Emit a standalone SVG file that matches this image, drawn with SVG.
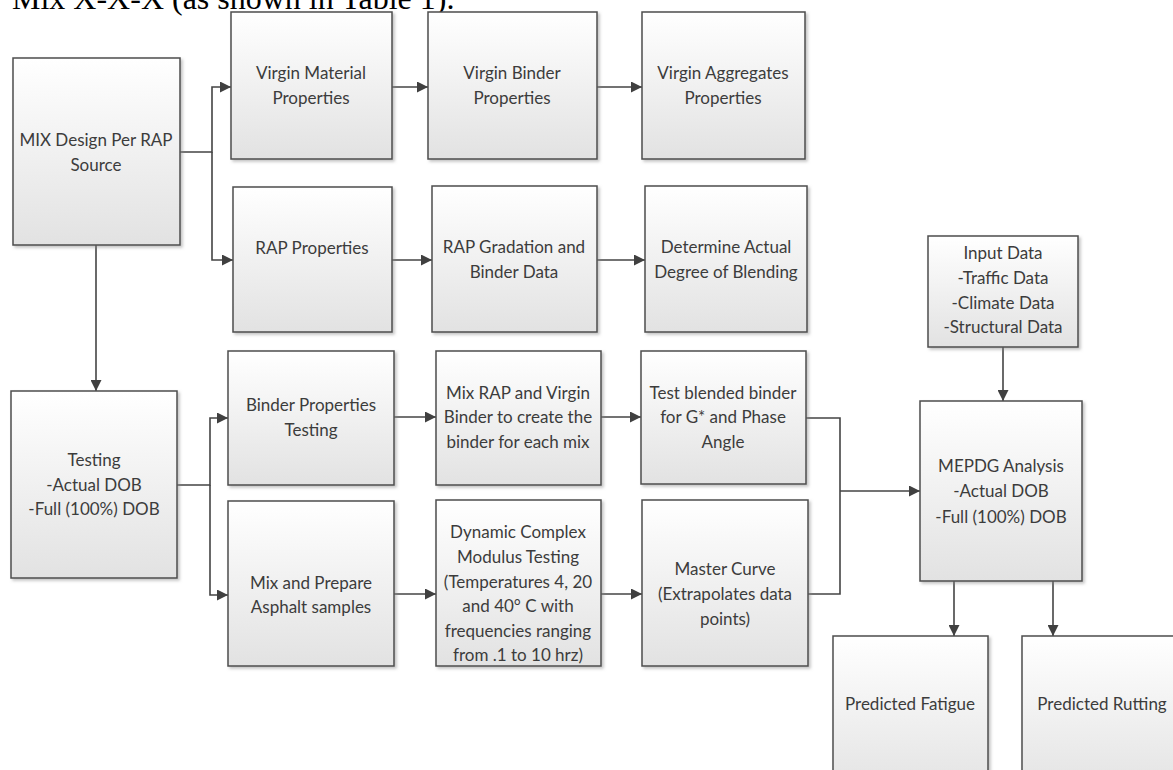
<svg xmlns="http://www.w3.org/2000/svg" width="1173" height="770" viewBox="0 0 1173 770">
<defs>
<linearGradient id="g" x1="0" y1="0" x2="0" y2="1">
<stop offset="0" stop-color="#ffffff"/>
<stop offset="1" stop-color="#e2e2e2"/>
</linearGradient>
<filter id="sh" x="-10%" y="-10%" width="125%" height="125%">
<feDropShadow dx="2" dy="2" stdDeviation="1.5" flood-color="#888888" flood-opacity="0.5"/>
</filter>
<marker id="ah" viewBox="0 0 10 10" refX="10" refY="5" markerWidth="11" markerHeight="11" markerUnits="userSpaceOnUse" orient="auto">
<path d="M0,0 L10,5 L0,10 z" fill="#404040"/>
</marker>
</defs>
<style>
.box{fill:url(#g);stroke:#4d4d4d;stroke-width:1.5;filter:url(#sh)}
.t{font-family:Lato,"Open Sans","Liberation Sans",sans-serif;font-size:17px;fill:#3c3c3c;text-anchor:middle}
.c{fill:none;stroke:#444444;stroke-width:1.6}
.a{marker-end:url(#ah)}
.title{font-family:"Liberation Serif","Times New Roman",serif;font-size:32px;fill:#000000}
</style>
<rect width="1173" height="770" fill="#ffffff"/>
<text class="title" x="12" y="9">Mix X-X-X (as shown in Table 1).</text>

<g id="connectors">
<path class="c a" d="M180,152 H212 V87 H231"/>
<path class="c a" d="M212,152 V260 H233"/>
<path class="c a" d="M392,87 H428"/>
<path class="c a" d="M597,87 H642"/>
<path class="c a" d="M392,260 H432"/>
<path class="c a" d="M597,260 H645"/>
<path class="c a" d="M96,245 V391"/>
<path class="c a" d="M177,485 H210 V418 H228"/>
<path class="c a" d="M210,485 V595 H228"/>
<path class="c a" d="M394,417 H436"/>
<path class="c a" d="M601,417 H641"/>
<path class="c a" d="M394,594 H436"/>
<path class="c a" d="M601,594 H642"/>
<path class="c" d="M806,418 H840 V594 H808"/>
<path class="c a" d="M840,491 H920"/>
<path class="c a" d="M1003,347 V401"/>
<path class="c a" d="M954,581 V636"/>
<path class="c a" d="M1053,581 V636"/>
</g>

<g id="n1"><rect class="box" x="13" y="58" width="167" height="187"/>
<text class="t" x="96" y="146">MIX Design Per RAP</text><text class="t" x="96" y="171">Source</text></g>
<g id="n2"><rect class="box" x="231" y="12" width="161" height="147"/>
<text class="t" x="311" y="79">Virgin Material</text><text class="t" x="311" y="104">Properties</text></g>
<g id="n3"><rect class="box" x="428" y="12" width="169" height="147"/>
<text class="t" x="512" y="79">Virgin Binder</text><text class="t" x="512" y="104">Properties</text></g>
<g id="n4"><rect class="box" x="642" y="12" width="163" height="147"/>
<text class="t" x="723" y="79">Virgin Aggregates</text><text class="t" x="723" y="104">Properties</text></g>
<g id="n5"><rect class="box" x="233" y="187" width="159" height="145"/>
<text class="t" x="312" y="254">RAP Properties</text></g>
<g id="n6"><rect class="box" x="432" y="186" width="165" height="146"/>
<text class="t" x="514" y="253">RAP Gradation and</text><text class="t" x="514" y="278">Binder Data</text></g>
<g id="n7"><rect class="box" x="645" y="186" width="162" height="146"/>
<text class="t" x="726" y="253">Determine Actual</text><text class="t" x="726" y="278">Degree of Blending</text></g>
<g id="n8"><rect class="box" x="928" y="236" width="150" height="111"/>
<text class="t" x="1003" y="259">Input Data</text><text class="t" x="1003" y="284">-Traffic Data</text><text class="t" x="1003" y="309">-Climate Data</text><text class="t" x="1003" y="333">-Structural Data</text></g>
<g id="n9"><rect class="box" x="11" y="391" width="166" height="187"/>
<text class="t" x="94" y="466">Testing</text><text class="t" x="94" y="491">-Actual DOB</text><text class="t" x="94" y="515">-Full (100%) DOB</text></g>
<g id="n10"><rect class="box" x="228" y="351" width="166" height="134"/>
<text class="t" x="311" y="411">Binder Properties</text><text class="t" x="311" y="436">Testing</text></g>
<g id="n11"><rect class="box" x="436" y="351" width="165" height="134"/>
<text class="t" x="518" y="399">Mix RAP and Virgin</text><text class="t" x="518" y="423">Binder to create the</text><text class="t" x="518" y="448">binder for each mix</text></g>
<g id="n12"><rect class="box" x="641" y="351" width="165" height="133"/>
<text class="t" x="723" y="399">Test blended binder</text><text class="t" x="723" y="423">for G* and Phase</text><text class="t" x="723" y="448">Angle</text></g>
<g id="n13"><rect class="box" x="228" y="501" width="166" height="165"/>
<text class="t" x="311" y="589">Mix and Prepare</text><text class="t" x="311" y="613">Asphalt samples</text></g>
<g id="n14"><rect class="box" x="436" y="500" width="165" height="166"/>
<text class="t" x="518" y="538">Dynamic Complex</text><text class="t" x="518" y="563">Modulus Testing</text><text class="t" x="518" y="588">(Temperatures 4, 20</text><text class="t" x="518" y="612">and 40° C  with</text><text class="t" x="518" y="637">frequencies ranging</text><text class="t" x="518" y="661">from .1 to 10 hrz)</text></g>
<g id="n15"><rect class="box" x="642" y="500" width="166" height="166"/>
<text class="t" x="725" y="575">Master Curve</text><text class="t" x="725" y="600">(Extrapolates data</text><text class="t" x="725" y="625">points)</text></g>
<g id="n16"><rect class="box" x="920" y="401" width="162" height="180"/>
<text class="t" x="1001" y="472">MEPDG Analysis</text><text class="t" x="1001" y="497">-Actual DOB</text><text class="t" x="1001" y="523">-Full (100%) DOB</text></g>
<g id="n17"><rect class="box" x="833" y="636" width="155" height="160"/>
<text class="t" x="910" y="710">Predicted Fatigue</text></g>
<g id="n18"><rect class="box" x="1022" y="636" width="160" height="160"/>
<text class="t" x="1102" y="710">Predicted Rutting</text></g>
</svg>
